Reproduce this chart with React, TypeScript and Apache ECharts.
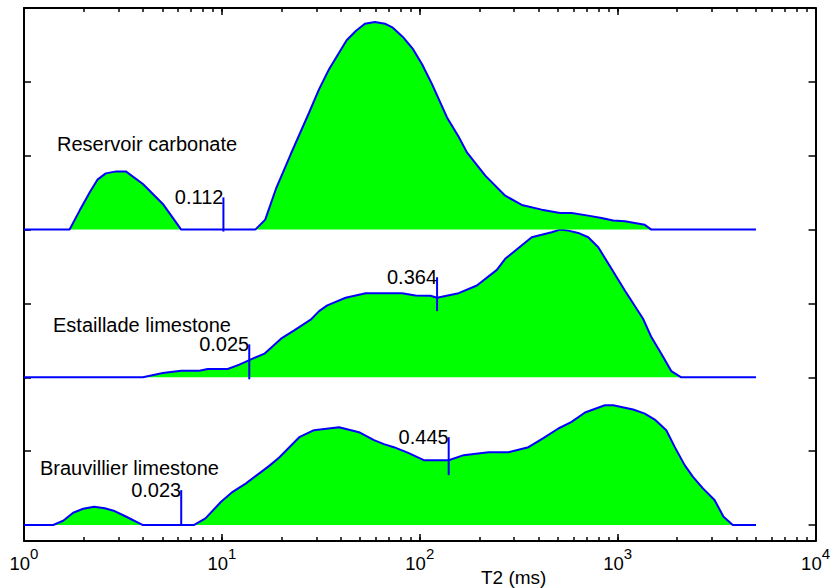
import React, { useEffect, useRef } from "react";
import * as echarts from "echarts";

// T2 (ms) and amplitude (panel units) for each sample
const resT2 = [1, 1.7, 1.91, 2.15, 2.35, 2.59, 2.93, 3.27, 3.99, 5.03, 6.23, 14.75, 16.56, 18.75, 22.3, 27.6, 31.0, 34.8, 42.7, 47.5, 52.8, 59.3, 66.6, 73.1, 82.1, 92.5, 102.7, 115.3, 137.3, 157.2, 173.1, 214.3, 270.2, 327.7, 413.2, 511.5, 585.1, 710.1, 828.7, 949.1, 1087, 1371, 1480, 5000];
const resAmp = [0, 0, 0.257, 0.504, 0.676, 0.761, 0.788, 0.788, 0.617, 0.347, 0, 0, 0.135, 0.55, 1.023, 1.585, 1.901, 2.172, 2.563, 2.689, 2.788, 2.811, 2.788, 2.734, 2.608, 2.442, 2.239, 1.969, 1.518, 1.257, 1.045, 0.73, 0.459, 0.334, 0.27, 0.226, 0.226, 0.189, 0.158, 0.122, 0.112, 0.064, 0, 0];

const estT2 = [1, 3.99, 5.03, 6.23, 7.7, 8.48, 10.7, 12.25, 14.3, 16.4, 19.9, 23.2, 28.1, 31.0, 34.1, 42.2, 53.3, 81.4, 95.1, 113.2, 122.3, 157.2, 194.4, 245.2, 270.2, 368, 464, 511.5, 563, 632, 710, 798, 931, 1087, 1344, 1480, 1662, 1866, 2096, 5000];
const estAmp = [0, 0, 0.058, 0.09, 0.09, 0.112, 0.112, 0.172, 0.253, 0.32, 0.523, 0.635, 0.78, 0.896, 0.973, 1.077, 1.139, 1.139, 1.108, 1.104, 1.077, 1.139, 1.243, 1.455, 1.604, 1.896, 1.964, 2.0, 1.986, 1.955, 1.896, 1.761, 1.469, 1.176, 0.793, 0.545, 0.32, 0.085, 0, 0];

const brvT2 = [1, 1.405, 1.578, 1.772, 1.99, 2.26, 2.56, 2.87, 3.29, 3.99, 7.21, 8.26, 9.91, 11.34, 13.24, 15.45, 17.35, 19.49, 24.6, 29.2, 39.1, 49.3, 58.7, 65.9, 74.0, 88.0, 104.8, 140.0, 166.6, 222.6, 280.8, 354.1, 421.3, 501.6, 585.2, 683.9, 861.9, 949.1, 1197, 1371, 1540, 1761, 1942, 2181, 2402, 2697, 3088, 3428, 3818, 5000];
const brvAmp = [0, 0, 0.058, 0.166, 0.22, 0.247, 0.226, 0.189, 0.112, 0, 0, 0.09, 0.315, 0.45, 0.564, 0.699, 0.801, 0.915, 1.189, 1.284, 1.324, 1.257, 1.149, 1.095, 1.054, 0.973, 0.878, 0.878, 0.946, 0.986, 0.986, 1.054, 1.176, 1.307, 1.396, 1.523, 1.622, 1.622, 1.564, 1.509, 1.428, 1.284, 1.058, 0.811, 0.653, 0.496, 0.338, 0.112, 0, 0];

const panelNames = ["Brauvillier limestone", "Estaillade limestone", "Reservoir carbonate"];
const panelOffsets = [0, 2, 4];

// cut-off markers: T2 (ms), panel index, low and high end (panel units), label
const markerT2 = [6.23, 140, 13.75, 122.3, 10.18];
const markerPanel = [0, 0, 1, 1, 2];
const markerLow = [0, 0.676, -0.027, 0.896, -0.027];
const markerHigh = [0.473, 1.189, 0.446, 1.355, 0.436];
const markerLabels = ["0.023", "0.445", "0.025", "0.364", "0.112"];

const decades = [0, 1, 2, 3, 4];
const minorMultipliers = [2, 3, 4, 5, 6, 7, 8, 9];
const yTicks = [0, 1, 2, 3, 4, 5, 6];

const FONT = '"Liberation Sans", Arial, Helvetica, sans-serif';

export default function App() {
  const ref = useRef<HTMLDivElement>(null);
  useEffect(() => {
    if (!ref.current) return;
    const chart = echarts.init(ref.current, undefined, { renderer: "svg" });
    const lg = (v: number) => Math.log10(v);
    const minorTicks: number[] = [];
    decades.slice(0, -1).forEach((d) => minorMultipliers.forEach((m) => minorTicks.push(lg(m) + d)));
    const allTicks = decades.concat(minorTicks);

    const panels = [
      { t: brvT2, a: brvAmp },
      { t: estT2, a: estAmp },
      { t: resT2, a: resAmp },
    ];
    const lineSeries = panels.map((p, i) => ({
      type: "line",
      name: panelNames[i],
      data: p.t.map((t, k) => [lg(t), p.a[k] + panelOffsets[i]]),
      symbol: "none",
      showSymbol: false,
      smooth: false,
      lineStyle: { color: "#0000ff", width: 2 },
      areaStyle: { color: "#00ff00", opacity: 1, origin: panelOffsets[i] },
      z: 2 + i,
      silent: true,
    }));

    const markerData = markerT2.map((t, i) => [
      lg(t),
      markerLow[i] + panelOffsets[markerPanel[i]],
      markerHigh[i] + panelOffsets[markerPanel[i]],
    ]);

    const axisLine = { show: true, onZero: false, lineStyle: { color: "#000", width: 2 } };
    const noLine = { show: false, onZero: false };
    const tickStyle = { color: "#000", width: 1.5 };
    const ymin = -16 / 74;

    const option: any = {
      animation: false,
      grid: { left: 24, right: 15, top: 8, bottom: 47, containLabel: false },
      xAxis: [
        {
          type: "value", position: "bottom", min: 0, max: 4,
          axisLine, splitLine: { show: false },
          axisTick: { show: true, inside: true, length: 4, customValues: allTicks, lineStyle: tickStyle },
          axisLabel: {
            show: true, customValues: decades, margin: 5,
            formatter: (v: number) => `{b|10}{s|${Math.round(v)}}`,
            rich: {
              b: { fontSize: 18.5, fontFamily: FONT, color: "#000", lineHeight: 27, verticalAlign: "bottom" },
              s: { fontSize: 15, fontFamily: FONT, color: "#000", lineHeight: 15, verticalAlign: "top" },
            },
          },
        },
        {
          type: "value", position: "top", min: 0, max: 4,
          axisLine, splitLine: { show: false },
          axisTick: { show: true, inside: true, length: 4, customValues: allTicks, lineStyle: tickStyle },
          axisLabel: { show: false },
        },
        {
          type: "value", position: "bottom", min: 0, max: 4,
          axisLine: noLine, splitLine: { show: false },
          axisTick: { show: true, inside: true, length: 7, customValues: decades, lineStyle: tickStyle },
          axisLabel: { show: false },
        },
        {
          type: "value", position: "top", min: 0, max: 4,
          axisLine: noLine, splitLine: { show: false },
          axisTick: { show: true, inside: true, length: 7, customValues: decades, lineStyle: tickStyle },
          axisLabel: { show: false },
        },
      ],
      yAxis: [
        {
          type: "value", position: "left", min: ymin, max: 7,
          axisLine, splitLine: { show: false },
          axisTick: { show: true, inside: true, length: 7, customValues: yTicks, lineStyle: tickStyle },
          axisLabel: { show: false },
        },
        {
          type: "value", position: "right", min: ymin, max: 7,
          axisLine, splitLine: { show: false },
          axisTick: { show: true, inside: true, length: 7, customValues: yTicks, lineStyle: tickStyle },
          axisLabel: { show: false },
        },
      ],
      graphic: [
        { type: "text", x: 57, y: 144, style: { text: panelNames[2], fontSize: 20, fontFamily: FONT, fill: "#000", align: "left", verticalAlign: "middle" } },
        { type: "text", x: 53, y: 325, style: { text: panelNames[1], fontSize: 20, fontFamily: FONT, fill: "#000", align: "left", verticalAlign: "middle" } },
        { type: "text", x: 40, y: 468, style: { text: panelNames[0], fontSize: 20, fontFamily: FONT, fill: "#000", align: "left", verticalAlign: "middle" } },
        { type: "text", x: 481, y: 577, style: { text: "T2 (ms)", fontSize: 19, fontFamily: FONT, fill: "#000", align: "left", verticalAlign: "middle" } },
      ],
      series: [
        ...lineSeries,
        {
          type: "custom",
          z: 10,
          silent: true,
          data: markerData,
          encode: { x: 0, y: [1, 2] },
          renderItem: (params: any, api: any) => {
            const x = api.value(0);
            const p0 = api.coord([x, api.value(1)]);
            const p1 = api.coord([x, api.value(2)]);
            return {
              type: "group",
              children: [
                { type: "line", shape: { x1: p0[0], y1: p0[1], x2: p1[0], y2: p1[1] }, style: { stroke: "#0000ff", lineWidth: 2 } },
                { type: "text", style: { text: markerLabels[params.dataIndex], x: p1[0], y: p1[1], align: "right", verticalAlign: "middle", fontSize: 20, fontFamily: FONT, fill: "#000" } },
              ],
            };
          },
        },
      ],
    };
    chart.setOption(option);
    return () => chart.dispose();
  }, []);
  return <div ref={ref} style={{ position: "fixed", left: 0, top: 0, width: 833, height: 588, background: "#fff" }} />;
}
